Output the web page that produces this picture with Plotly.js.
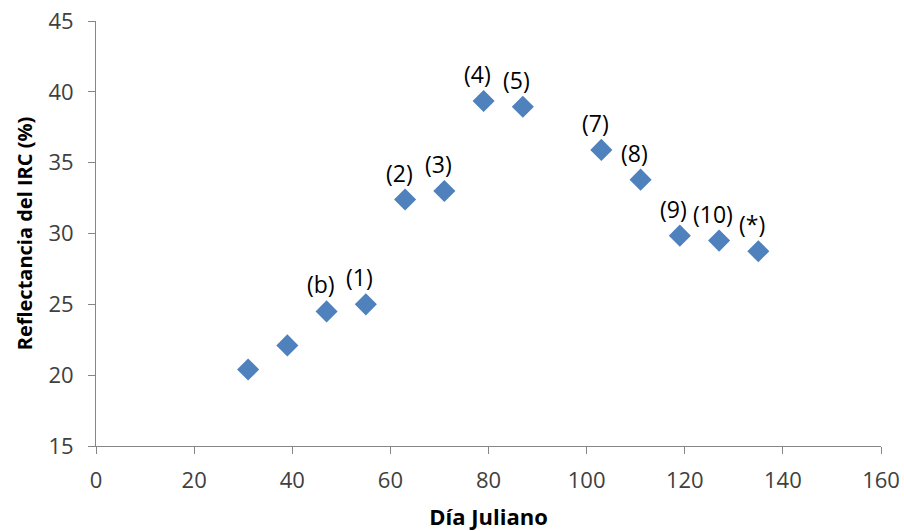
<!DOCTYPE html>
<html>
<head>
<meta charset="utf-8">
<script src="https://cdn.plot.ly/plotly-3.0.1.min.js"></script>
<style>html,body{margin:0;padding:0;background:#fff;}#chart{width:904px;height:531px;}</style>
</head>
<body>
<div id="chart"></div>
<script>
const diaJuliano = [31, 39, 47, 55, 63, 71, 79, 87, 103, 111, 119, 127, 135];
const reflectancia = [20.4, 22.1, 24.5, 25.0, 32.4, 33.0, 39.35, 38.95, 35.9, 33.8, 29.85, 29.5, 28.75];
const etiquetas = ['', '', '(b)', '(1)', '(2)', '(3)', '(4)', '(5)', '(7)', '(8)', '(9)', '(10)', '(*)'];

const fontFam = '"Open Sans", "Liberation Sans", sans-serif';

const annotations = [];
for (let i = 0; i < diaJuliano.length; i++) {
  if (!etiquetas[i]) continue;
  annotations.push({
    x: diaJuliano[i], y: reflectancia[i], xref: 'x', yref: 'y',
    text: etiquetas[i], showarrow: false,
    xshift: -6, yshift: 27,
    font: {family: fontFam, size: 23, color: '#000'}
  });
}

const trace = {
  x: diaJuliano, y: reflectancia, type: 'scatter', mode: 'markers',
  marker: {symbol: 'diamond', size: 17, color: '#4F81BD'},
  hoverinfo: 'skip'
};

const axisCommon = {
  showline: true, linecolor: '#868686', linewidth: 1,
  ticks: 'outside', ticklen: 7, tickcolor: '#868686',
  showgrid: false, zeroline: false,
  tickfont: {family: fontFam, size: 22, color: '#404040'}
};

const layout = {
  width: 904, height: 531,
  margin: {l: 96, r: 23, t: 21, b: 85},
  paper_bgcolor: '#fff', plot_bgcolor: '#fff',
  showlegend: false,
  xaxis: Object.assign({}, axisCommon, {
    range: [0, 160], dtick: 20, tick0: 0, ticklabelstandoff: 8,
    title: {text: '<b>Día Juliano</b>', font: {family: fontFam, size: 22, color: '#000'}, standoff: 24}
  }),
  yaxis: Object.assign({}, axisCommon, {
    range: [15, 45], dtick: 5, tick0: 15, ticklabelstandoff: 10,
    title: {text: '<b>Reflectancia del IRC (%)</b>', font: {family: fontFam, size: 20, color: '#000'}, standoff: 10}
  }),
  annotations: annotations
};

Plotly.newPlot('chart', [trace], layout, {displayModeBar: false, staticPlot: true});
</script>
</body>
</html>
